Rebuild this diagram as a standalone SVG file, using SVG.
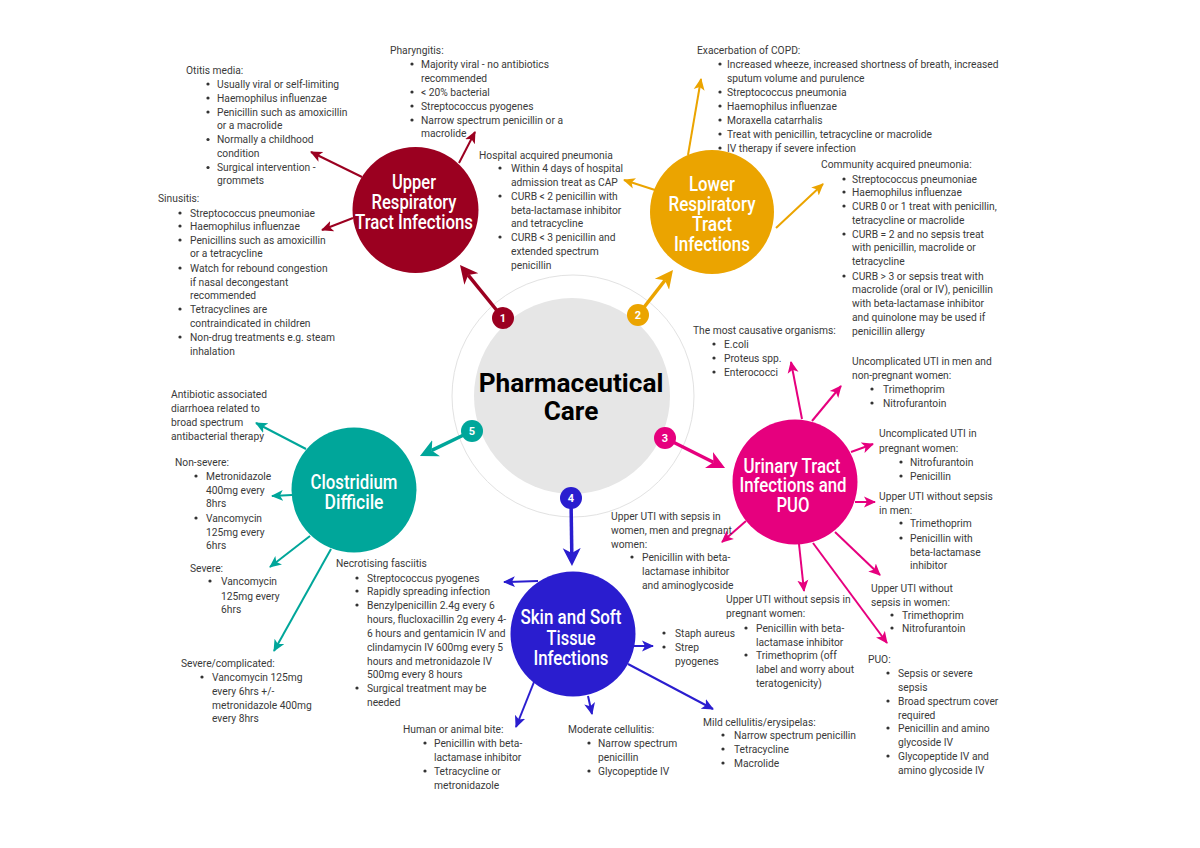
<svg xmlns="http://www.w3.org/2000/svg" width="1200" height="848" viewBox="0 0 1200 848">
<style>
text{font-family:Roboto,"Liberation Sans",sans-serif}
.t{font-size:10.25px;fill:#3a3a3a}
.d{fill:#333;r:1.6px}
.n{font-size:21px;font-weight:500;fill:#fff;text-anchor:middle}
.c{font-size:26.2px;font-weight:700;fill:#000;text-anchor:middle}
.k{font-size:11px;font-weight:700;fill:#fff;text-anchor:middle}
.l{fill:none;stroke-width:2}
.m{fill:none;stroke-width:3.5}
.r{stroke:#9b0020}.y{stroke:#eba400}.p{stroke:#e6007e}.u{stroke:#2a1dcf}.g{stroke:#00a69a}
</style>
<defs>
<marker id="sr" markerUnits="userSpaceOnUse" markerWidth="13" markerHeight="13" refX="11" refY="6" orient="auto"><path d="M0,0.5L12,6L0,11.5L3,6Z" fill="#9b0020"/></marker>
<marker id="sy" markerUnits="userSpaceOnUse" markerWidth="13" markerHeight="13" refX="11" refY="6" orient="auto"><path d="M0,0.5L12,6L0,11.5L3,6Z" fill="#eba400"/></marker>
<marker id="sp" markerUnits="userSpaceOnUse" markerWidth="13" markerHeight="13" refX="11" refY="6" orient="auto"><path d="M0,0.5L12,6L0,11.5L3,6Z" fill="#e6007e"/></marker>
<marker id="su" markerUnits="userSpaceOnUse" markerWidth="13" markerHeight="13" refX="11" refY="6" orient="auto"><path d="M0,0.5L12,6L0,11.5L3,6Z" fill="#2a1dcf"/></marker>
<marker id="sg" markerUnits="userSpaceOnUse" markerWidth="13" markerHeight="13" refX="11" refY="6" orient="auto"><path d="M0,0.5L12,6L0,11.5L3,6Z" fill="#00a69a"/></marker>
<marker id="br" markerUnits="userSpaceOnUse" markerWidth="20" markerHeight="20" refX="5" refY="10" orient="auto"><path d="M0,1L18,10L0,19L5,10Z" fill="#9b0020"/></marker>
<marker id="by" markerUnits="userSpaceOnUse" markerWidth="20" markerHeight="20" refX="5" refY="10" orient="auto"><path d="M0,1L18,10L0,19L5,10Z" fill="#eba400"/></marker>
<marker id="bp" markerUnits="userSpaceOnUse" markerWidth="20" markerHeight="20" refX="5" refY="10" orient="auto"><path d="M0,1L18,10L0,19L5,10Z" fill="#e6007e"/></marker>
<marker id="bu" markerUnits="userSpaceOnUse" markerWidth="20" markerHeight="20" refX="5" refY="10" orient="auto"><path d="M0,1L18,10L0,19L5,10Z" fill="#2a1dcf"/></marker>
<marker id="bg" markerUnits="userSpaceOnUse" markerWidth="20" markerHeight="20" refX="5" refY="10" orient="auto"><path d="M0,1L18,10L0,19L5,10Z" fill="#00a69a"/></marker>
</defs>
<rect width="1200" height="848" fill="#fff"/>

<g id="central">
<circle cx="573" cy="396" r="121" fill="none" stroke="#e2e2e2" stroke-width="1"/>
<circle cx="572" cy="396" r="98" fill="#e6e6e6"/>
<text class="c"><tspan x="571" y="392">Pharmaceutical</tspan><tspan x="571" y="420">Care</tspan></text>
</g>

<g id="connectors">
<line class="m r" x1="503" y1="318" x2="468.2" y2="275.1" marker-end="url(#br)"/>
<line class="m y" x1="638" y1="315" x2="665" y2="280.3" marker-end="url(#by)"/>
<line class="m p" x1="665" y1="438" x2="713.4" y2="462.2" marker-end="url(#bp)"/>
<line class="m u" x1="571" y1="498" x2="571.8" y2="553" marker-end="url(#bu)"/>
<line class="m g" x1="472" y1="431" x2="431.7" y2="450.4" marker-end="url(#bg)"/>
<line class="l r" x1="362" y1="177" x2="311" y2="152" marker-end="url(#sr)"/>
<line class="l r" x1="353" y1="218" x2="322" y2="230" marker-end="url(#sr)"/>
<line class="l r" x1="459" y1="163" x2="475" y2="132" marker-end="url(#sr)"/>
<line class="l y" x1="688" y1="155" x2="701" y2="79" marker-end="url(#sy)"/>
<line class="l y" x1="655" y1="190" x2="624" y2="180" marker-end="url(#sy)"/>
<line class="l y" x1="776" y1="228" x2="823" y2="184" marker-end="url(#sy)"/>
<line class="l p" x1="802" y1="419" x2="791" y2="362" marker-end="url(#sp)"/>
<line class="l p" x1="812" y1="421" x2="841" y2="386" marker-end="url(#sp)"/>
<line class="l p" x1="851" y1="452" x2="873" y2="444" marker-end="url(#sp)"/>
<line class="l p" x1="855" y1="502" x2="875" y2="502" marker-end="url(#sp)"/>
<line class="l p" x1="746" y1="521" x2="722" y2="542" marker-end="url(#sp)"/>
<line class="l p" x1="799" y1="544" x2="804" y2="591" marker-end="url(#sp)"/>
<line class="l p" x1="835" y1="532" x2="880" y2="575" marker-end="url(#sp)"/>
<line class="l p" x1="813" y1="543" x2="887" y2="643" marker-end="url(#sp)"/>
<line class="l u" x1="538" y1="581" x2="504" y2="582" marker-end="url(#su)"/>
<line class="l u" x1="634" y1="646" x2="653" y2="646" marker-end="url(#su)"/>
<line class="l u" x1="628" y1="664" x2="713" y2="709" marker-end="url(#su)"/>
<line class="l u" x1="588" y1="696" x2="592" y2="714" marker-end="url(#su)"/>
<line class="l u" x1="534" y1="682" x2="516" y2="727" marker-end="url(#su)"/>
<line class="l g" x1="306" y1="449" x2="256" y2="423" marker-end="url(#sg)"/>
<line class="l g" x1="292" y1="495" x2="272" y2="496" marker-end="url(#sg)"/>
<line class="l g" x1="310" y1="536" x2="270" y2="567" marker-end="url(#sg)"/>
<line class="l g" x1="331" y1="549" x2="274" y2="651" marker-end="url(#sg)"/>
</g>

<g id="badge-1"><circle cx="503" cy="318" r="11" fill="#9b0020"/><text class="k" x="503" y="322">1</text></g>
<g id="badge-2"><circle cx="638" cy="315" r="11" fill="#eba400"/><text class="k" x="638" y="319">2</text></g>
<g id="badge-3"><circle cx="665" cy="438" r="11" fill="#e6007e"/><text class="k" x="665" y="442">3</text></g>
<g id="badge-4"><circle cx="571" cy="498" r="11" fill="#2a1dcf"/><text class="k" x="571" y="502">4</text></g>
<g id="badge-5"><circle cx="472" cy="431" r="11" fill="#00a69a"/><text class="k" x="472" y="435">5</text></g>

<g id="upper-respiratory"><circle cx="415.5" cy="210" r="63" fill="#9b0020"/>
<text class="n"><tspan x="414" y="189" textLength="44" lengthAdjust="spacingAndGlyphs">Upper</tspan><tspan x="414" y="209" textLength="85" lengthAdjust="spacingAndGlyphs">Respiratory</tspan><tspan x="414" y="229" textLength="118" lengthAdjust="spacingAndGlyphs">Tract Infections</tspan></text></g>
<g id="lower-respiratory"><circle cx="712" cy="212" r="62" fill="#eba400"/>
<text class="n"><tspan x="712" y="191" textLength="46" lengthAdjust="spacingAndGlyphs">Lower</tspan><tspan x="712" y="211" textLength="87" lengthAdjust="spacingAndGlyphs">Respiratory</tspan><tspan x="712" y="231" textLength="40" lengthAdjust="spacingAndGlyphs">Tract</tspan><tspan x="712" y="251" textLength="76" lengthAdjust="spacingAndGlyphs">Infections</tspan></text></g>
<g id="urinary-tract"><circle cx="795" cy="482" r="62.5" fill="#e6007e"/>
<text class="n"><tspan x="792" y="473" textLength="97" lengthAdjust="spacingAndGlyphs">Urinary Tract</tspan><tspan x="793" y="492" textLength="107" lengthAdjust="spacingAndGlyphs">Infections and</tspan><tspan x="793" y="512" textLength="33" lengthAdjust="spacingAndGlyphs">PUO</tspan></text></g>
<g id="skin-soft-tissue"><circle cx="573" cy="634" r="62.5" fill="#2a1dcf"/>
<text class="n"><tspan x="571" y="624" textLength="101" lengthAdjust="spacingAndGlyphs">Skin and Soft</tspan><tspan x="571" y="645" textLength="49" lengthAdjust="spacingAndGlyphs">Tissue</tspan><tspan x="571" y="665" textLength="75" lengthAdjust="spacingAndGlyphs">Infections</tspan></text></g>
<g id="clostridium"><circle cx="354" cy="490" r="62.5" fill="#00a69a"/>
<text class="n"><tspan x="354" y="489" textLength="87" lengthAdjust="spacingAndGlyphs">Clostridium</tspan><tspan x="354" y="509" textLength="59" lengthAdjust="spacingAndGlyphs">Difficile</tspan></text></g>

<g id="otitis-media"><circle class="d" cx="208" cy="84"/><circle class="d" cx="208" cy="98"/><circle class="d" cx="208" cy="112"/><circle class="d" cx="208" cy="139.5"/><circle class="d" cx="208" cy="167.5"/><text class="t"><tspan x="186" y="73.5">Otitis media:</tspan><tspan x="217" y="87.5">Usually viral or self-limiting</tspan><tspan x="217" y="101.5">Haemophilus influenzae</tspan><tspan x="217" y="115.5">Penicillin such as amoxicillin</tspan><tspan x="217" y="129">or a macrolide</tspan><tspan x="217" y="143">Normally a childhood</tspan><tspan x="217" y="157">condition</tspan><tspan x="217" y="171">Surgical intervention -</tspan><tspan x="217" y="184">grommets</tspan></text></g>
<g id="pharyngitis"><circle class="d" cx="412" cy="64"/><circle class="d" cx="412" cy="92"/><circle class="d" cx="412" cy="106"/><circle class="d" cx="412" cy="120"/><text class="t"><tspan x="390" y="53.5">Pharyngitis:</tspan><tspan x="421" y="67.5">Majority viral - no antibiotics</tspan><tspan x="421" y="81.5">recommended</tspan><tspan x="421" y="95.5">&lt; 20% bacterial</tspan><tspan x="421" y="109.5">Streptococcus pyogenes</tspan><tspan x="421" y="123.5">Narrow spectrum penicillin or a</tspan><tspan x="421" y="137">macrolide</tspan></text></g>
<g id="sinusitis"><circle class="d" cx="180" cy="213"/><circle class="d" cx="180" cy="226"/><circle class="d" cx="180" cy="240"/><circle class="d" cx="180" cy="268"/><circle class="d" cx="180" cy="309"/><circle class="d" cx="180" cy="337"/><text class="t"><tspan x="158" y="201.5">Sinusitis:</tspan><tspan x="190" y="216.5">Streptococcus pneumoniae</tspan><tspan x="190" y="229.5">Haemophilus influenzae</tspan><tspan x="190" y="243.5">Penicillins such as amoxicillin</tspan><tspan x="190" y="257">or a tetracycline</tspan><tspan x="190" y="271.5">Watch for rebound congestion</tspan><tspan x="190" y="285.5">if nasal decongestant</tspan><tspan x="190" y="299">recommended</tspan><tspan x="190" y="312.5">Tetracyclines are</tspan><tspan x="190" y="326.5">contraindicated in children</tspan><tspan x="190" y="340.5">Non-drug treatments e.g. steam</tspan><tspan x="190" y="354.5">inhalation</tspan></text></g>
<g id="copd"><circle class="d" cx="720" cy="64"/><circle class="d" cx="720" cy="92"/><circle class="d" cx="720" cy="106"/><circle class="d" cx="720" cy="120"/><circle class="d" cx="720" cy="134"/><circle class="d" cx="720" cy="148"/><text class="t"><tspan x="697" y="53.5">Exacerbation of COPD:</tspan><tspan x="727" y="67.5">Increased wheeze, increased shortness of breath, increased</tspan><tspan x="727" y="81.5">sputum volume and purulence</tspan><tspan x="727" y="95.5">Streptococcus pneumonia</tspan><tspan x="727" y="109.5">Haemophilus influenzae</tspan><tspan x="727" y="123.5">Moraxella catarrhalis</tspan><tspan x="727" y="137.5">Treat with penicillin, tetracycline or macrolide</tspan><tspan x="727" y="151.5">IV therapy if severe infection</tspan></text></g>
<g id="hospital-pneumonia"><circle class="d" cx="500" cy="168"/><circle class="d" cx="500" cy="196"/><circle class="d" cx="500" cy="237"/><text class="t"><tspan x="479" y="158.5">Hospital acquired pneumonia</tspan><tspan x="511" y="171.5">Within 4 days of hospital</tspan><tspan x="511" y="185.5">admission treat as CAP</tspan><tspan x="511" y="199.5">CURB &lt; 2  penicillin with</tspan><tspan x="511" y="213.5">beta-lactamase inhibitor</tspan><tspan x="511" y="226.5">and tetracycline</tspan><tspan x="511" y="240.5">CURB &lt; 3 penicillin and</tspan><tspan x="511" y="255">extended spectrum</tspan><tspan x="511" y="268.5">penicillin</tspan></text></g>
<g id="community-pneumonia"><circle class="d" cx="844" cy="179"/><circle class="d" cx="844" cy="192"/><circle class="d" cx="844" cy="206"/><circle class="d" cx="844" cy="234"/><circle class="d" cx="844" cy="276"/><text class="t"><tspan x="821" y="167.5">Community acquired pneumonia:</tspan><tspan x="852" y="182.5">Streptococcus pneumoniae</tspan><tspan x="852" y="195.5">Haemophilus influenzae</tspan><tspan x="852" y="209.5">CURB 0 or 1 treat with penicillin,</tspan><tspan x="852" y="223.5">tetracycline or macrolide</tspan><tspan x="852" y="237.5">CURB = 2 and no sepsis treat</tspan><tspan x="852" y="250.5">with penicillin, macrolide or</tspan><tspan x="852" y="265">tetracycline</tspan><tspan x="852" y="279.5">CURB &gt; 3 or sepsis treat with</tspan><tspan x="852" y="292.5">macrolide (oral or IV), penicillin</tspan><tspan x="852" y="306.5">with beta-lactamase inhibitor</tspan><tspan x="852" y="320.5">and quinolone may be used if</tspan><tspan x="852" y="334.5">penicillin allergy</tspan></text></g>
<g id="causative-organisms"><circle class="d" cx="714" cy="344"/><circle class="d" cx="714" cy="358"/><circle class="d" cx="714" cy="372"/><text class="t"><tspan x="693" y="333.5">The most causative organisms:</tspan><tspan x="724" y="347.5">E.coli</tspan><tspan x="724" y="361.5">Proteus spp.</tspan><tspan x="724" y="375.5">Enterococci</tspan></text></g>
<g id="uti-men-nonpregnant"><circle class="d" cx="872" cy="389"/><circle class="d" cx="872" cy="403"/><text class="t"><tspan x="852" y="364.5">Uncomplicated UTI in men and</tspan><tspan x="852" y="378.5">non-pregnant women:</tspan><tspan x="883" y="392.5">Trimethoprim</tspan><tspan x="883" y="406.5">Nitrofurantoin</tspan></text></g>
<g id="uti-pregnant"><circle class="d" cx="901" cy="462"/><circle class="d" cx="901" cy="476"/><text class="t"><tspan x="879" y="436.5">Uncomplicated UTI in</tspan><tspan x="879" y="451.5">pregnant women:</tspan><tspan x="910" y="465.5">Nitrofurantoin</tspan><tspan x="910" y="479.5">Penicillin</tspan></text></g>
<g id="upper-uti-men"><circle class="d" cx="901" cy="523"/><circle class="d" cx="901" cy="538"/><text class="t"><tspan x="879" y="499.5">Upper UTI without sepsis</tspan><tspan x="879" y="513.5">in men:</tspan><tspan x="910" y="526.5">Trimethoprim</tspan><tspan x="910" y="541.5">Penicillin with</tspan><tspan x="910" y="555.5">beta-lactamase</tspan><tspan x="910" y="568.5">inhibitor</tspan></text></g>
<g id="upper-uti-sepsis"><circle class="d" cx="632" cy="557"/><text class="t"><tspan x="611" y="519.5">Upper UTI with sepsis in</tspan><tspan x="611" y="533.5">women, men and pregnant</tspan><tspan x="611" y="547.5">women:</tspan><tspan x="642" y="560.5">Penicillin with beta-</tspan><tspan x="642" y="574.5">lactamase inhibitor</tspan><tspan x="642" y="588.5">and aminoglycoside</tspan></text></g>
<g id="upper-uti-women"><circle class="d" cx="892" cy="615"/><circle class="d" cx="892" cy="628"/><text class="t"><tspan x="871" y="591.5">Upper UTI without</tspan><tspan x="871" y="605.5">sepsis in women:</tspan><tspan x="902" y="618.5">Trimethoprim</tspan><tspan x="902" y="631.5">Nitrofurantoin</tspan></text></g>
<g id="upper-uti-pregnant"><circle class="d" cx="746" cy="628"/><circle class="d" cx="746" cy="655"/><text class="t"><tspan x="726" y="602.5">Upper UTI without sepsis in</tspan><tspan x="726" y="616.5">pregnant women:</tspan><tspan x="756" y="631.5">Penicillin with beta-</tspan><tspan x="756" y="645.5">lactamase inhibitor</tspan><tspan x="756" y="658.5">Trimethoprim (off</tspan><tspan x="756" y="672.5">label and worry about</tspan><tspan x="756" y="686.5">teratogenicity)</tspan></text></g>
<g id="puo"><circle class="d" cx="888" cy="673"/><circle class="d" cx="888" cy="701"/><circle class="d" cx="888" cy="728"/><circle class="d" cx="888" cy="756"/><text class="t"><tspan x="868" y="662.5">PUO:</tspan><tspan x="898" y="676.5">Sepsis or severe</tspan><tspan x="898" y="690.5">sepsis</tspan><tspan x="898" y="704.5">Broad spectrum cover</tspan><tspan x="898" y="718.5">required</tspan><tspan x="898" y="731.5">Penicillin and amino</tspan><tspan x="898" y="745.5">glycoside IV</tspan><tspan x="898" y="759.5">Glycopeptide IV and</tspan><tspan x="898" y="773.5">amino glycoside IV</tspan></text></g>
<g id="staph-strep"><circle class="d" cx="664" cy="633"/><circle class="d" cx="664" cy="647"/><text class="t"><tspan x="675" y="636.5">Staph aureus</tspan><tspan x="675" y="650.5">Strep</tspan><tspan x="675" y="664.5">pyogenes</tspan></text></g>
<g id="mild-cellulitis"><circle class="d" cx="723" cy="735"/><circle class="d" cx="723" cy="749"/><circle class="d" cx="723" cy="763"/><text class="t"><tspan x="703" y="725.5">Mild cellulitis/erysipelas:</tspan><tspan x="734" y="738.5">Narrow spectrum penicillin</tspan><tspan x="734" y="752.5">Tetracycline</tspan><tspan x="734" y="766.5">Macrolide</tspan></text></g>
<g id="moderate-cellulitis"><circle class="d" cx="589" cy="743"/><circle class="d" cx="589" cy="771"/><text class="t"><tspan x="568" y="732.5">Moderate cellulitis:</tspan><tspan x="598" y="746.5">Narrow spectrum</tspan><tspan x="598" y="760.5">penicillin</tspan><tspan x="598" y="774.5">Glycopeptide IV</tspan></text></g>
<g id="bite"><circle class="d" cx="425" cy="743"/><circle class="d" cx="425" cy="771"/><text class="t"><tspan x="403" y="732.5">Human or animal bite:</tspan><tspan x="434" y="746.5">Penicillin with beta-</tspan><tspan x="434" y="760.5">lactamase inhibitor</tspan><tspan x="434" y="774.5">Tetracycline or</tspan><tspan x="434" y="788.5">metronidazole</tspan></text></g>
<g id="necrotising-fasciitis"><circle class="d" cx="357" cy="578"/><circle class="d" cx="357" cy="591"/><circle class="d" cx="357" cy="605"/><circle class="d" cx="357" cy="688"/><text class="t"><tspan x="336" y="566.5">Necrotising fasciitis</tspan><tspan x="367" y="581.5">Streptococcus pyogenes</tspan><tspan x="367" y="594.5">Rapidly spreading infection</tspan><tspan x="367" y="608.5">Benzylpenicillin 2.4g every 6</tspan><tspan x="367" y="622.5">hours, flucloxacillin 2g every 4-</tspan><tspan x="367" y="636.5">6 hours and gentamicin IV and</tspan><tspan x="367" y="650.5">clindamycin IV 600mg every 5</tspan><tspan x="367" y="664.5">hours and metronidazole IV</tspan><tspan x="367" y="677.5">500mg every 8 hours</tspan><tspan x="367" y="691.5">Surgical treatment may be</tspan><tspan x="367" y="705.5">needed</tspan></text></g>
<g id="antibiotic-diarrhoea"><text class="t"><tspan x="171" y="397.5">Antibiotic associated</tspan><tspan x="171" y="411.5">diarrhoea related to</tspan><tspan x="171" y="425.5">broad spectrum</tspan><tspan x="171" y="439.5">antibacterial therapy</tspan></text></g>
<g id="non-severe"><circle class="d" cx="196" cy="476"/><circle class="d" cx="196" cy="518"/><text class="t"><tspan x="175" y="465.5">Non-severe:</tspan><tspan x="206" y="479.5">Metronidazole</tspan><tspan x="206" y="493.5">400mg every</tspan><tspan x="206" y="506.5">8hrs</tspan><tspan x="206" y="521.5">Vancomycin</tspan><tspan x="206" y="535.5">125mg every</tspan><tspan x="206" y="548.5">6hrs</tspan></text></g>
<g id="severe"><circle class="d" cx="210" cy="581"/><text class="t"><tspan x="190" y="571.5">Severe:</tspan><tspan x="221" y="584.5">Vancomycin</tspan><tspan x="221" y="599.5">125mg every</tspan><tspan x="221" y="612.5">6hrs</tspan></text></g>
<g id="severe-complicated"><circle class="d" cx="202" cy="677"/><text class="t"><tspan x="181" y="666.5">Severe/complicated:</tspan><tspan x="212" y="680.5">Vancomycin 125mg</tspan><tspan x="212" y="694.5">every 6hrs +/-</tspan><tspan x="212" y="708.5">metronidazole 400mg</tspan><tspan x="212" y="721.5">every 8hrs</tspan></text></g>
</svg>
